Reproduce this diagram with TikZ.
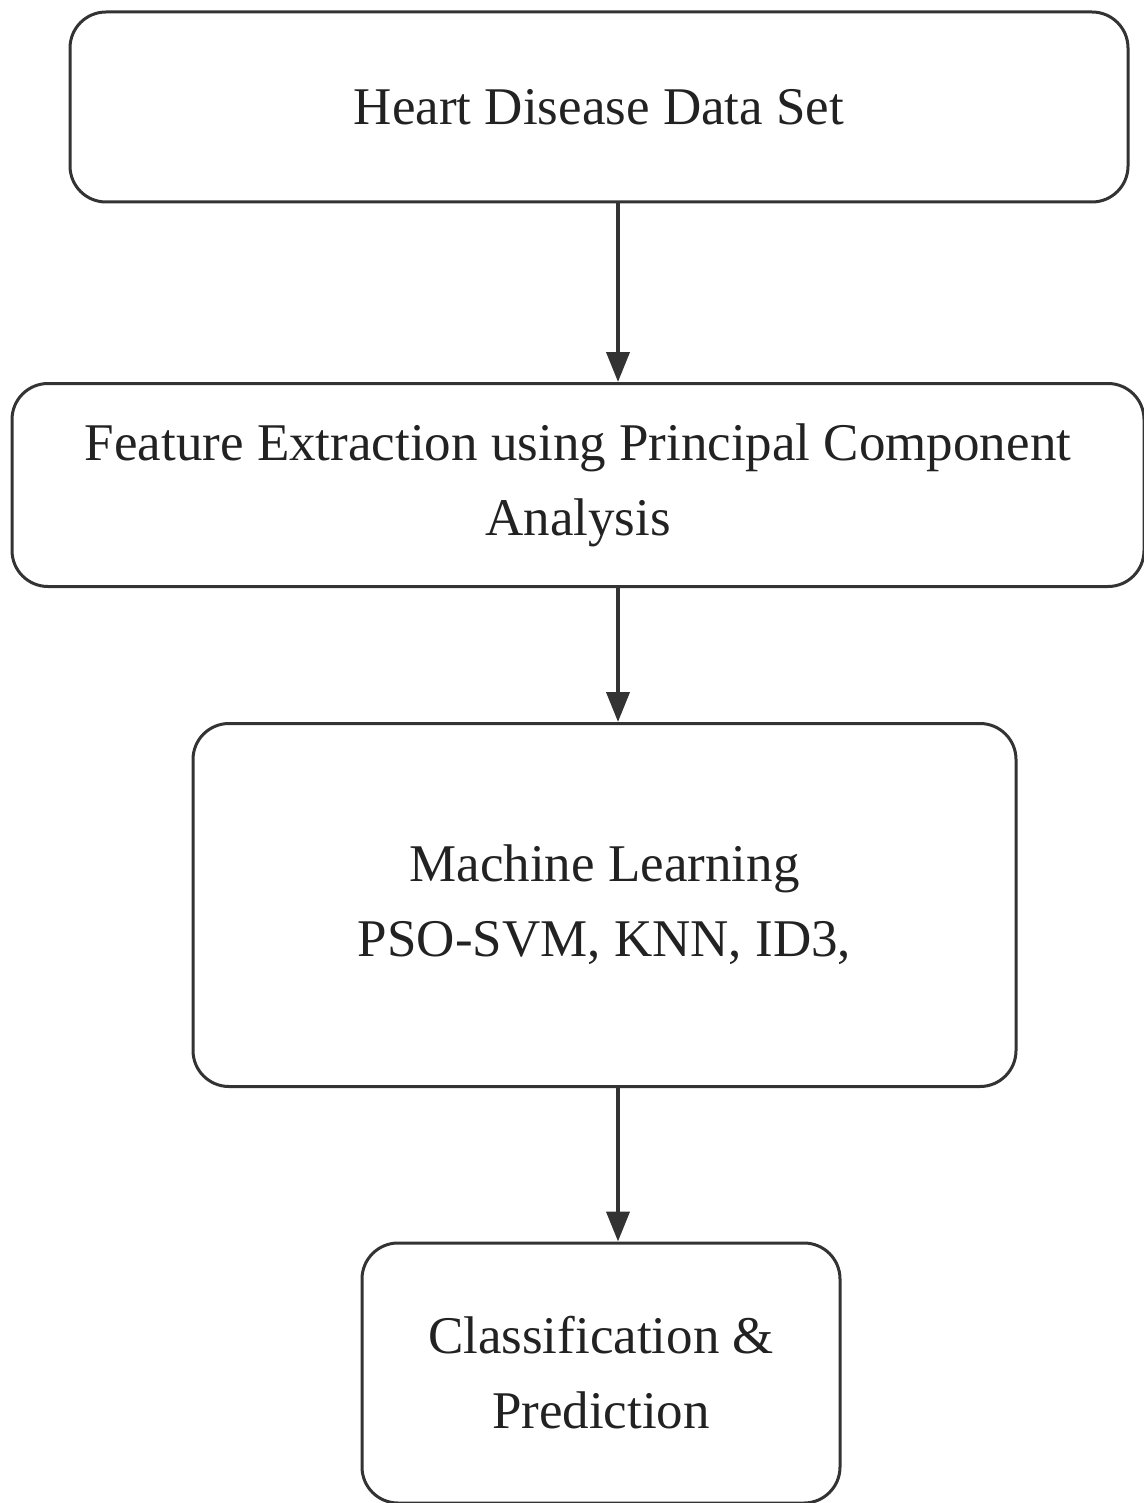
\documentclass[tikz,border=0pt]{standalone}
\usepackage{fontspec}
\setmainfont{Liberation Serif}
\usetikzlibrary{arrows.meta,positioning}
\definecolor{HDInk}{HTML}{222222}
\definecolor{HDLine}{HTML}{333333}
\tikzset{
  flow/.style={-{Triangle[length=30pt,width=23pt]},HDLine,line width=4pt},
  card/.style={draw=HDLine,line width=3pt,rounded corners=36pt,text=HDInk,
               align=center,font=\fontsize{53}{75}\selectfont,inner sep=0pt},
}
\begin{document}
\begin{tikzpicture}[x=1pt,y=-1pt]
  \useasboundingbox (0,0) rectangle (1143,1503);
  \coordinate (ax) at (618,0);
  \node[card,minimum width=1058pt,minimum height=190pt] (data) at (599,107)
    {Heart Disease Data Set};
  \node[card,minimum width=1132pt,minimum height=203pt] (pca) at (578,485)
    {Feature Extraction using Principal Component\\Analysis};
  \node[card,minimum width=823pt,minimum height=363pt] (ml) at (604.5,905)
    {Machine Learning\\PSO-SVM, KNN, ID3,};
  \node[card,minimum width=478pt,minimum height=260pt] (pred) at (601,1373)
    {Classification \&\\Prediction};
  \draw[flow] (data.south -| ax) -- (pca.north -| ax);
  \draw[flow] (pca.south -| ax) -- (ml.north -| ax);
  \draw[flow] (ml.south -| ax) -- (pred.north -| ax);
\end{tikzpicture}
\end{document}
